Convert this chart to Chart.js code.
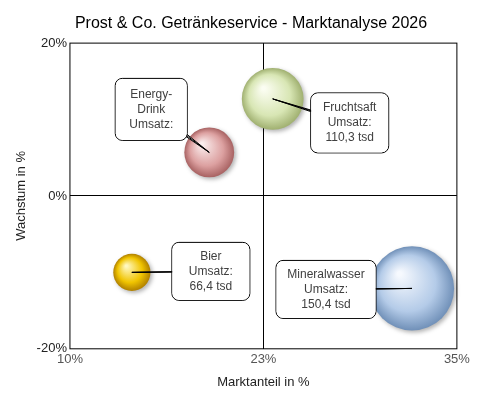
<!DOCTYPE html>
<html>
<head>
<script src="https://cdn.jsdelivr.net/npm/chart.js"></script>
<style>body{margin:0;background:#fff}#wrap{width:500px;height:400px}</style>
</head>
<body>
<div id="wrap"><canvas id="myChart"></canvas></div>
<script>
var names = ["Energy-Drink", "Fruchtsaft", "Bier", "Mineralwasser"];
var marktanteil = [19.0, 23.1, 14.0, 32.1];
var wachstum = [5.7, 12.7, -10.0, -12.1];
var umsatz = [89, 110.3, 66.4, 150.4];
var labelLines = [
    ["Energy-", "Drink", "Umsatz:"],
    ["Fruchtsaft", "Umsatz:", "110,3 tsd"],
    ["Bier", "Umsatz:", "66,4 tsd"],
    ["Mineralwasser", "Umsatz:", "150,4 tsd"]
];
var colors = [
    ["#fbeeee", "#dca0a0", "#a86262"],
    ["#fbfdf2", "#d8e6b4", "#a0b070"],
    ["#fff8c0", "#f0c400", "#b08000"],
    ["#f6f9fe", "#b4cbe8", "#7090b8"]
];
// box offset from bubble centre, box size
var boxes = [
    [-58, -43, 72, 62], [77, 24, 78, 60], [79, -1, 78, 58], [-86, 1, 100, 58]
];

var points = names.map((n, i) => ({x: marktanteil[i], y: wachstum[i], r: umsatz[i] * 0.28}));

function roundRect(ctx, x, y, w, h, r) {
    ctx.beginPath();
    ctx.moveTo(x + r, y);
    ctx.arcTo(x + w, y, x + w, y + h, r);
    ctx.arcTo(x + w, y + h, x, y + h, r);
    ctx.arcTo(x, y + h, x, y, r);
    ctx.arcTo(x, y, x + w, y, r);
    ctx.closePath();
}

var bubbleArt = {
    id: "bubbleArt",
    afterDatasetsDraw(chart) {
        var ctx = chart.ctx;
        var meta = chart.getDatasetMeta(0);
        var area = chart.chartArea;
        ctx.save();
        ctx.strokeStyle = "#000";
        ctx.lineWidth = 1;
        ctx.strokeRect(area.left, area.top, area.right - area.left, area.bottom - area.top);
        meta.data.forEach((el, i) => {
            var r = el.options.radius;
            var g = ctx.createRadialGradient(el.x - r * 0.3, el.y - r * 0.35, r * 0.05, el.x, el.y, r);
            g.addColorStop(0, colors[i][0]);
            g.addColorStop(0.65, colors[i][1]);
            g.addColorStop(1, colors[i][2]);
            ctx.beginPath();
            ctx.arc(el.x, el.y, r, 0, Math.PI * 2);
            ctx.fillStyle = g;
            ctx.shadowColor = "rgba(0,0,0,0.3)";
            ctx.shadowBlur = 4;
            ctx.shadowOffsetX = 2;
            ctx.shadowOffsetY = 2;
            ctx.fill();
            ctx.shadowColor = "transparent";
        });
        meta.data.forEach((el, i) => {
            var b = boxes[i];
            var cx = el.x + b[0], cy = el.y + b[1];
            var bx = cx - b[2] / 2, by = cy - b[3] / 2;
            ctx.beginPath();
            ctx.moveTo(cx - 5, cy);
            ctx.lineTo(el.x, el.y);
            ctx.lineTo(cx + 5, cy);
            ctx.closePath();
            ctx.fillStyle = "#fff";
            ctx.fill();
            ctx.strokeStyle = "#000";
            ctx.stroke();
            roundRect(ctx, bx, by, b[2], b[3], 7);
            ctx.fillStyle = "#fff";
            ctx.fill();
            ctx.stroke();
            ctx.beginPath();
            ctx.moveTo(cx, cy);
            ctx.lineTo(el.x, el.y);
            ctx.stroke();
            roundRect(ctx, bx + 0.5, by + 0.5, b[2] - 1, b[3] - 1, 7);
            ctx.fillStyle = "#fff";
            ctx.fill();
            ctx.fillStyle = "#404040";
            ctx.font = "12px Arial, 'Liberation Sans'";
            ctx.textAlign = "center";
            ctx.textBaseline = "middle";
            var lines = labelLines[i];
            lines.forEach((t, k) => {
                ctx.fillText(t, cx, cy + (k - (lines.length - 1) / 2) * 15);
            });
        });
        ctx.restore();
    }
};

new Chart(document.getElementById("myChart"), {
    type: "bubble",
    data: {
        datasets: [{
            data: points,
            backgroundColor: "rgba(0,0,0,0)",
            borderColor: "rgba(0,0,0,0)"
        }]
    },
    plugins: [bubbleArt],
    options: {
        responsive: true,
        maintainAspectRatio: false,
        animation: false,
        layout: {padding: {left: 10, right: 8, top: 0, bottom: 6}},
        plugins: {
            legend: {display: false},
            tooltip: {enabled: false},
            title: {
                display: true,
                text: "Prost & Co. Getränkeservice - Marktanalyse 2026",
                color: "#000",
                font: {family: "Arial, 'Liberation Sans'", size: 16, weight: "normal"},
                padding: {top: 8, bottom: 10}
            }
        },
        scales: {
            x: {
                min: 10, max: 35,
                afterBuildTicks: (s) => { s.ticks = [{value: 10}, {value: 22.5}, {value: 35}]; },
                ticks: {
                    color: "#555",
                    font: {family: "Arial, 'Liberation Sans'", size: 13},
                    callback: (v) => Math.round(v) + "%"
                },
                grid: {
                    color: (c) => c.tick && c.tick.value === 22.5 ? "#000" : "rgba(0,0,0,0)",
                    drawTicks: false
                },
                border: {display: false},
                title: {display: true, text: "Marktanteil in %", color: "#222",
                    font: {family: "Arial, 'Liberation Sans'", size: 13}}
            },
            y: {
                min: -20, max: 20,
                afterBuildTicks: (s) => { s.ticks = [{value: -20}, {value: 0}, {value: 20}]; },
                ticks: {
                    color: "#222",
                    font: {family: "Arial, 'Liberation Sans'", size: 13},
                    callback: (v) => v + "%"
                },
                grid: {
                    color: (c) => c.tick && c.tick.value === 0 ? "#000" : "rgba(0,0,0,0)",
                    drawTicks: false
                },
                border: {display: false},
                title: {display: true, text: "Wachstum in %", color: "#222",
                    font: {family: "Arial, 'Liberation Sans'", size: 13}}
            }
        }
    }
});
</script>
</body>
</html>
